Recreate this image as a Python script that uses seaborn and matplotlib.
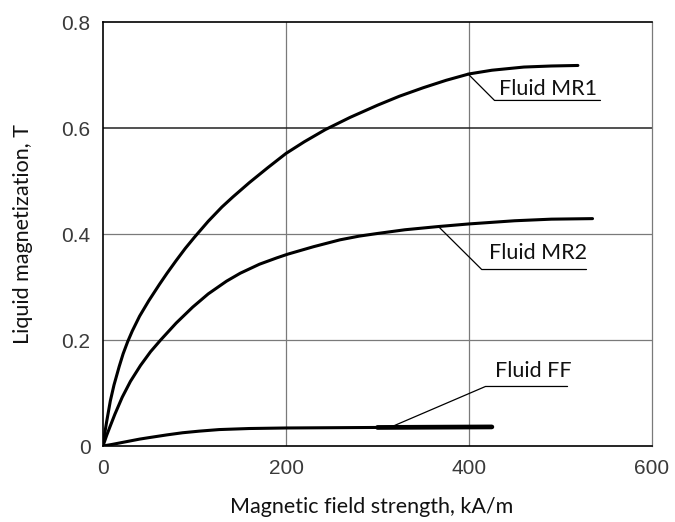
import matplotlib
matplotlib.use("Agg")
import matplotlib.pyplot as plt
import seaborn as sns
import pandas as pd

# ---- data ----
mr1_h = [0, 2, 4, 8, 12, 17.7, 22, 27, 32, 40, 50, 61.7, 70, 80, 90, 100, 115, 130,
         142, 160, 180, 200, 220, 243, 270, 300, 324, 350, 375, 400, 425, 460, 490, 519]
mr1_m = [0, 0.025, 0.046, 0.085, 0.115, 0.15, 0.174, 0.197, 0.217, 0.245, 0.274, 0.305,
         0.326, 0.35, 0.373, 0.394, 0.424, 0.451, 0.470, 0.497, 0.525, 0.552, 0.574, 0.597,
         0.62, 0.643, 0.66, 0.676, 0.69, 0.702, 0.709, 0.715, 0.717, 0.718]

mr2_h = [0, 4, 8, 13, 21, 30, 41, 52, 63, 80, 98, 115, 135, 150, 171, 190, 202, 230,
         259, 280, 300, 330, 366, 400, 450, 490, 535]
mr2_m = [0, 0.02, 0.038, 0.06, 0.092, 0.122, 0.152, 0.178, 0.20, 0.232, 0.262, 0.287,
         0.311, 0.326, 0.343, 0.355, 0.362, 0.376, 0.389, 0.396, 0.401, 0.408, 0.414,
         0.419, 0.425, 0.428, 0.429]

ff_h = [0, 10, 25, 40, 51, 70, 87, 105, 127, 160, 200, 250, 300, 360, 425]
ff_m = [0, 0.003, 0.008, 0.013, 0.016, 0.021, 0.025, 0.028, 0.031, 0.033, 0.034, 0.0345,
        0.035, 0.0355, 0.036]

series_names = ["Fluid MR1", "Fluid MR2", "Fluid FF"]
x_ticks = [0, 200, 400, 600]
y_ticks = [0, 0.2, 0.4, 0.6, 0.8]
y_tick_labels = ["0", "0.2", "0.4", "0.6", "0.8"]

df = pd.concat([
    pd.DataFrame({"H": mr1_h, "M": mr1_m, "fluid": series_names[0]}),
    pd.DataFrame({"H": mr2_h, "M": mr2_m, "fluid": series_names[1]}),
    pd.DataFrame({"H": ff_h, "M": ff_m, "fluid": series_names[2]}),
], ignore_index=True)

sns.set_theme(style="white")
plt.rcParams["font.family"] = ["Lato", "DejaVu Sans"]

fig = plt.figure(figsize=(6.75, 5.22), dpi=100)
ax = fig.add_axes([103 / 675, 1 - 446 / 522, 549 / 675, 424 / 522])

sns.lineplot(data=df, x="H", y="M", hue="fluid", units="fluid", estimator=None,
             sort=False, palette={n: "black" for n in series_names},
             linewidth=2.2, legend=False, ax=ax, zorder=3)
# thicker tail of the FF curve
ff_df = df[(df["fluid"] == "Fluid FF") & (df["H"] >= 300)]
sns.lineplot(data=ff_df, x="H", y="M", estimator=None, sort=False, color="black",
             linewidth=3.4, legend=False, ax=ax, zorder=3)

ax.set_xlim(0, 600)
ax.set_ylim(0, 0.8)
ax.set_xticks(x_ticks)
ax.set_yticks(y_ticks)
ax.set_yticklabels(y_tick_labels)

# grid
for xv in [200, 400]:
    ax.axvline(xv, color="#7a7a7a", lw=0.9, zorder=1)
for yv in [0.2, 0.4]:
    ax.axhline(yv, color="#7a7a7a", lw=0.9, zorder=1)
ax.axhline(0.6, color="#222222", lw=1.1, zorder=1)

for s in ["top", "left", "bottom"]:
    ax.spines[s].set_color("black")
    ax.spines[s].set_linewidth(1.2)
ax.spines["right"].set_color("#7a7a7a")
ax.spines["right"].set_linewidth(0.9)

ax.tick_params(axis="both", length=0, labelsize=15, labelcolor="#3a3a3a")
ax.tick_params(axis="y", pad=9)
ax.tick_params(axis="x", pad=9)
for lab in ax.get_xticklabels() + ax.get_yticklabels():
    lab.set_fontfamily(["Liberation Sans", "DejaVu Sans"])

ax.set_xlabel("Magnetic field strength, kA/m", fontsize=15.5, color="#111111")
ax.set_ylabel("Liquid magnetization, T", fontsize=15.5, color="#111111")
ax.xaxis.set_label_coords(0.49, -0.12)
ax.yaxis.set_label_coords(-0.127, 0.5)

# annotations: leader line + underline + label
ann = [
    # (curve point, elbow point, underline end x, text x, text y)
    ((398.4, 0.703), (427.9, 0.652), 543.7, 433.0, 0.673, series_names[0]),
    ((367.8, 0.412), (413.9, 0.333), 528.4, 422.4, 0.365, series_names[1]),
    ((318.6, 0.0387), (418.0, 0.1123), 507.7, 427.9, 0.1406, series_names[2]),
]
for (p0, p1, xend, tx, ty, name) in ann:
    ax.plot([p0[0], p1[0], xend], [p0[1], p1[1], p1[1]], color="black", lw=0.9,
            zorder=4, clip_on=False)
    ax.text(tx, ty, name, fontsize=15.5, color="#111111", ha="left", va="center", zorder=5)

fig.savefig("out.png", dpi=100)
